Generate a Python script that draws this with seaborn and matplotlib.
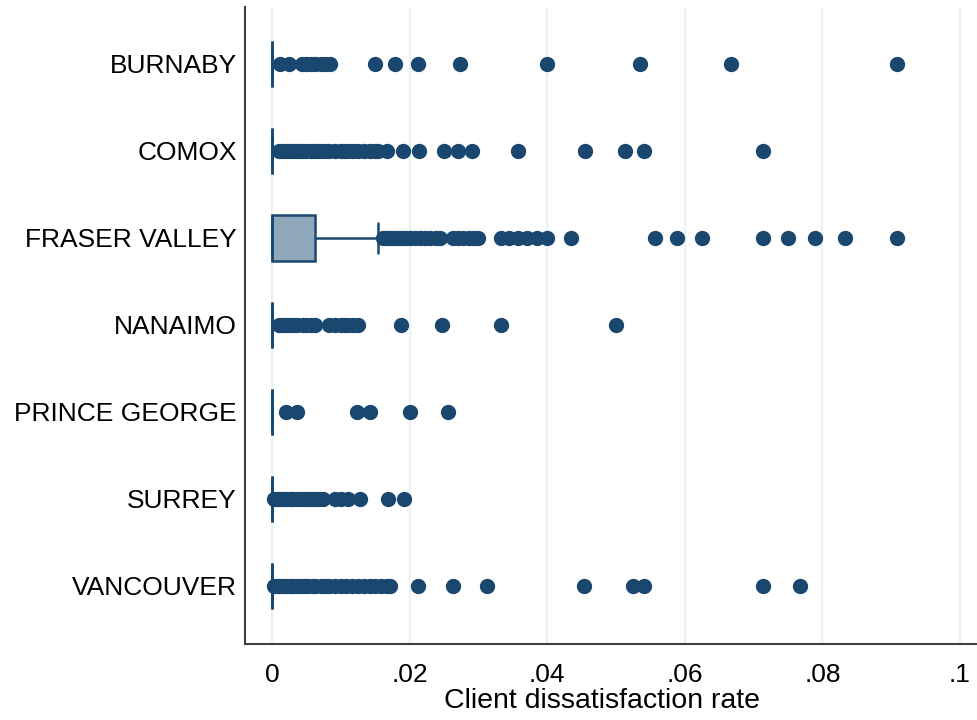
import numpy as np
import pandas as pd
import matplotlib
matplotlib.use("Agg")
import matplotlib.pyplot as plt
import seaborn as sns

# Regions (top to bottom) and number of offices with zero dissatisfaction
regions = ['BURNABY', 'COMOX', 'FRASER VALLEY', 'NANAIMO',
           'PRINCE GEORGE', 'SURREY', 'VANCOUVER']
zero_counts = [80, 160, 120, 90, 30, 90, 150]

# Non-zero rates
burnaby = [0.0012, 0.0025, 0.0043, 0.0050, 0.0056, 0.0063, 0.0071, 0.0077,
           0.0084, 0.0150, 0.0179, 0.0212, 0.0273, 0.0400, 0.0535, 0.0667,
           0.0909]
comox = [0.0010, 0.0015, 0.0020, 0.0025, 0.0030, 0.0035, 0.0040, 0.0045,
         0.0050, 0.0056, 0.0063, 0.0067, 0.0071, 0.0077, 0.0083, 0.0091,
         0.0100, 0.0105, 0.0111, 0.0118, 0.0125, 0.0133, 0.0143, 0.0150,
         0.0154, 0.0167, 0.0190, 0.0213, 0.0250, 0.0270, 0.0290, 0.0357,
         0.0455, 0.0513, 0.0541, 0.0714]
fraser_valley = [0.0010, 0.0014, 0.0018, 0.0022, 0.0026, 0.0030, 0.0034,
                 0.0038, 0.0042, 0.0047, 0.0052, 0.0057, 0.0063,
                 0.0071, 0.0077, 0.0083, 0.0091, 0.0100, 0.0111, 0.0125,
                 0.0143, 0.0154,
                 0.0162, 0.0167, 0.0172, 0.0178, 0.0183, 0.0189, 0.0195,
                 0.0200, 0.0208, 0.0215, 0.0222, 0.0230, 0.0238, 0.0244,
                 0.0263, 0.0270, 0.0278, 0.0286, 0.0294, 0.0300, 0.0333,
                 0.0345, 0.0357, 0.0370, 0.0385, 0.0400, 0.0435, 0.0556,
                 0.0588, 0.0625, 0.0714, 0.0750, 0.0789, 0.0833, 0.0909]
nanaimo = [0.0010, 0.0015, 0.0020, 0.0025, 0.0030, 0.0037, 0.0045, 0.0050,
           0.0057, 0.0063, 0.0083, 0.0091, 0.0100, 0.0105, 0.0111, 0.0118,
           0.0125, 0.0188, 0.0247, 0.0333, 0.0500]
prince_george = [0.0020, 0.0037, 0.0123, 0.0142, 0.0201, 0.0256]
surrey = [0.0003, 0.0008, 0.0012, 0.0017, 0.0022, 0.0027, 0.0031, 0.0036,
          0.0042, 0.0048, 0.0053, 0.0058, 0.0063, 0.0069, 0.0074, 0.0091,
          0.0100, 0.0111, 0.0128, 0.0169, 0.0192]
vancouver = [0.0003, 0.0008, 0.0012, 0.0017, 0.0022, 0.0027, 0.0031, 0.0036,
             0.0042, 0.0048, 0.0053, 0.0059, 0.0063, 0.0071, 0.0077, 0.0083,
             0.0091, 0.0100, 0.0108, 0.0116, 0.0125, 0.0133, 0.0143, 0.0150,
             0.0159, 0.0167, 0.0172, 0.0212, 0.0263, 0.0313, 0.0454, 0.0524,
             0.0540, 0.0714, 0.0768]

x_ticks = [0, 0.02, 0.04, 0.06, 0.08, 0.1]
x_ticklabels = ['0', '.02', '.04', '.06', '.08', '.1']

nonzero = [burnaby, comox, fraser_valley, nanaimo, prince_george, surrey, vancouver]
rows = []
for reg, n0, vals in zip(regions, zero_counts, nonzero):
    for v in [0.0] * n0 + list(vals):
        rows.append((reg, v))
df = pd.DataFrame(rows, columns=['region', 'rate'])

sns.set_style('white')
plt.rcParams['font.family'] = ['Liberation Sans', 'DejaVu Sans']
plt.rcParams['text.color'] = 'black'
plt.rcParams['xtick.color'] = 'black'
plt.rcParams['ytick.color'] = 'black'
plt.rcParams['axes.labelcolor'] = 'black'

navy = '#1a476f'
fig = plt.figure(figsize=(9.77, 7.2), dpi=100)
ax = fig.add_axes([0.2508, 0.1056, 0.7492, 0.8847])

for x in x_ticks:
    ax.axvline(x, color='#eaf2f3', lw=1.6, zorder=0)

sns.boxplot(data=df, x='rate', y='region', order=regions, orient='h',
            ax=ax, width=0.52, color='#90a8bc', linecolor=navy,
            linewidth=1.8, fliersize=10, saturation=1, capwidths=0.34,
            flierprops=dict(marker='o', markerfacecolor=navy,
                            markeredgecolor=navy),
            medianprops=dict(color=navy, lw=1.8))

ax.set_xlim(-0.00392, 0.10247)
ax.set_ylim(6.667, -0.655)
ax.set_xticks(x_ticks)
ax.set_xticklabels(x_ticklabels)
ax.set_xlabel('Client dissatisfaction rate', fontsize=20.5, labelpad=0)
ax.xaxis.set_label_coords(0.488, -0.069)
ax.set_ylabel('')
ax.tick_params(axis='x', length=10, width=1.2, color='#404040',
               labelsize=19, pad=4)
ax.tick_params(axis='y', length=0, labelsize=19, pad=6)

sns.despine(ax=ax, top=True, right=True)
for s in ['left', 'bottom']:
    ax.spines[s].set_color('#404040')
    ax.spines[s].set_linewidth(1.5)

fig.savefig('out.png', dpi=100)
